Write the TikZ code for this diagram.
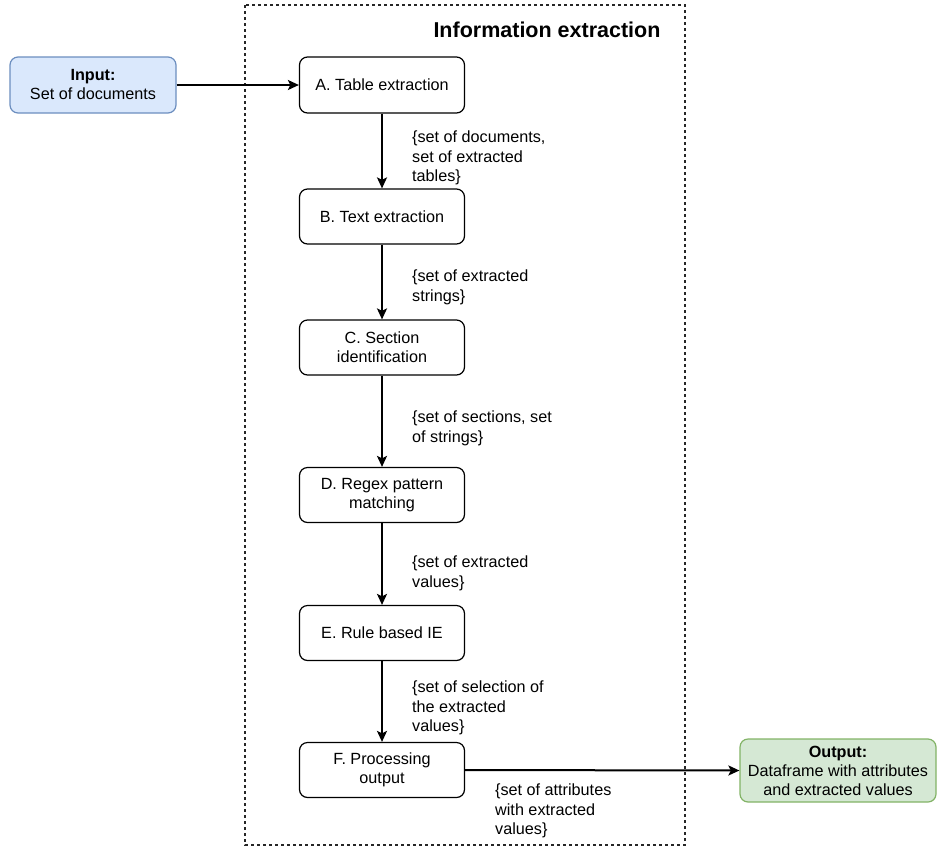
\documentclass[tikz,border=0pt]{standalone}
\usepackage{fontspec}
\setmainfont{Liberation Sans}
\usetikzlibrary{arrows.meta}
\definecolor{inFill}{HTML}{DAE8FC}
\definecolor{inLine}{HTML}{6C8EBF}
\definecolor{outFill}{HTML}{D5E8D4}
\definecolor{outLine}{HTML}{82B366}
\tikzset{
  stepbox/.style={draw=black, line width=1.2pt, rounded corners=8pt, minimum width=165pt, minimum height=55pt, align=center, inner sep=2pt, font=\fontsize{16.2}{19}\selectfont},
  inbox/.style={stepbox, fill=inFill, draw=inLine, minimum width=166pt, minimum height=56pt},
  outbox/.style={stepbox, fill=outFill, draw=outLine, minimum width=196pt, minimum height=63pt},
  lbl/.style={anchor=north west, align=left, inner sep=0pt, font=\fontsize{16.2}{19.5}\selectfont},
  conn/.style={line width=2pt, -{Stealth[length=11pt,width=10pt,inset=2.5pt]}}
}
\begin{document}
\begin{tikzpicture}[x=1pt,y=-1pt]
\useasboundingbox (0,0) rectangle (937,847);
\draw[line width=1.2pt, dash pattern=on 3pt off 3pt, black!85] (245,5) rectangle (685,845);
\node[font=\fontsize{21.5}{24}\selectfont\bfseries] (title) at (547,30) {Information extraction};
\node[inbox] (in) at (93,85) {\textbf{Input:}\\Set of documents};
\node[stepbox, minimum height=56pt] (A) at (382,85) {A. Table extraction};
\node[stepbox] (B) at (382,216.5) {B. Text extraction};
\node[stepbox] (C) at (382,347.5) {C. Section\\identification};
\node[stepbox] (D) at (382,495) {D. Regex pattern\\matching};
\node[stepbox] (E) at (382,633) {E. Rule based IE};
\node[stepbox] (F) at (382,770) {F. Processing\\output};
\node[outbox] (out) at (838,770.5) {\textbf{Output:}\\Dataframe with attributes\\and extracted values};
\draw[conn] (in) -- (A);
\draw[conn] (A) -- (B);
\draw[conn] (B) -- (C);
\draw[conn] (C) -- (D);
\draw[conn] (D) -- (E);
\draw[conn] (E) -- (F);
\draw[conn] (F.east) -- (out.west);
\node[lbl] (lAB) at (412,131) {\{set of documents,\\set of extracted\\tables\}};
\node[lbl] (lBC) at (412,270) {\{set of extracted\\strings\}};
\node[lbl] (lCD) at (412,411) {\{set of sections, set\\of strings\}};
\node[lbl] (lDE) at (412,556) {\{set of extracted\\values\}};
\node[lbl] (lEF) at (412,681) {\{set of selection of\\the extracted\\values\}};
\node[lbl] (lFO) at (495,784) {\{set of attributes\\with extracted\\values\}};
\end{tikzpicture}
\end{document}
